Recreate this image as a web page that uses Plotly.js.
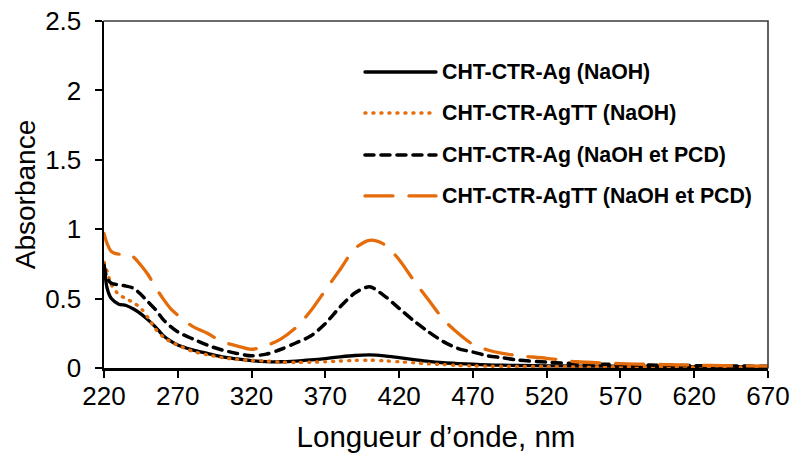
<!DOCTYPE html>
<html>
<head>
<meta charset="utf-8">
<script src="https://cdn.plot.ly/plotly-3.0.1.min.js"></script>
<style>
  body { margin: 0; padding: 0; background: #fff; }
  #chart { width: 795px; height: 455px; }
  .js-line, .shapelayer path { stroke-linecap: round; }
</style>
</head>
<body>
<div id="chart"></div>
<script>
// Wavelengths (nm)
const wavelength = [220, 222, 225, 230, 235, 240, 245, 250, 255, 260, 265, 270, 280, 290, 300, 310, 320, 330, 340, 350, 360, 370, 380, 390, 400, 410, 420, 430, 440, 450, 460, 470, 480, 490, 500, 520, 540, 560, 580, 600, 620, 640, 670];

// CHT-CTR-Ag (NaOH)
const agNaOH = [0.76, 0.58, 0.50, 0.46, 0.45, 0.425, 0.39, 0.345, 0.295, 0.235, 0.195, 0.165, 0.13, 0.105, 0.08, 0.065, 0.053, 0.046, 0.045, 0.05, 0.058, 0.068, 0.08, 0.09, 0.094, 0.088, 0.074, 0.06, 0.047, 0.038, 0.032, 0.027, 0.023, 0.02, 0.018, 0.016, 0.014, 0.013, 0.012, 0.011, 0.01, 0.01, 0.009];

// CHT-CTR-AgTT (NaOH)
const agTTNaOH = [0.76, 0.70, 0.60, 0.53, 0.50, 0.47, 0.43, 0.36, 0.28, 0.225, 0.19, 0.165, 0.12, 0.095, 0.075, 0.062, 0.055, 0.05, 0.042, 0.04, 0.042, 0.045, 0.05, 0.055, 0.056, 0.052, 0.045, 0.038, 0.03, 0.025, 0.018, 0.015, 0.013, 0.012, 0.012, 0.011, 0.01, 0.01, 0.009, 0.009, 0.008, 0.008, 0.008];

// CHT-CTR-Ag (NaOH et PCD)
const agNaOHPCD = [0.74, 0.65, 0.61, 0.60, 0.59, 0.575, 0.53, 0.475, 0.42, 0.35, 0.30, 0.26, 0.21, 0.165, 0.13, 0.105, 0.088, 0.10, 0.135, 0.18, 0.23, 0.32, 0.44, 0.54, 0.585, 0.52, 0.43, 0.34, 0.26, 0.19, 0.14, 0.115, 0.088, 0.074, 0.058, 0.042, 0.032, 0.027, 0.022, 0.02, 0.017, 0.015, 0.012];

// CHT-CTR-AgTT (NaOH et PCD)
const agTTNaOHPCD = [0.97, 0.90, 0.84, 0.82, 0.83, 0.80, 0.74, 0.67, 0.58, 0.50, 0.43, 0.38, 0.30, 0.25, 0.19, 0.16, 0.135, 0.16, 0.21, 0.29, 0.41, 0.56, 0.71, 0.86, 0.92, 0.89, 0.78, 0.63, 0.49, 0.35, 0.25, 0.17, 0.13, 0.105, 0.09, 0.07, 0.045, 0.035, 0.028, 0.025, 0.02, 0.017, 0.013];

const seriesNames = ["CHT-CTR-Ag (NaOH)", "CHT-CTR-AgTT (NaOH)", "CHT-CTR-Ag (NaOH et PCD)", "CHT-CTR-AgTT (NaOH et PCD)"];
const seriesValues = [agNaOH, agTTNaOH, agNaOHPCD, agTTNaOHPCD];

const xTicks = [220, 270, 320, 370, 420, 470, 520, 570, 620, 670];
const yTicks = [0, 0.5, 1, 1.5, 2, 2.5];

const ORANGE = "#E46C0A";
const styles = [
  { color: "#000000", width: 3.3, dash: "solid" },
  { color: ORANGE, width: 3.4, dash: "1px,7px" },
  { color: "#000000", width: 3.5, dash: "9px,7px" },
  { color: ORANGE, width: 3.3, dash: "28px,16px" }
];

const traces = seriesValues.map((vals, i) => ({
  type: "scatter",
  mode: "lines",
  x: wavelength,
  y: vals,
  name: seriesNames[i],
  line: { color: styles[i].color, width: styles[i].width, dash: styles[i].dash, shape: "spline", smoothing: 0.8 },
  showlegend: false,
  hoverinfo: "skip"
}));

// Custom legend (long line samples as in the reference)
const legX0 = 0.393, legX1 = 0.5, legTextX = 0.506;
const legY = [0.853, 0.735, 0.614, 0.496];
const shapes = [
  // top and right border of plot area
  { type: "path", xref: "paper", yref: "paper", path: "M 0 1 L 1 1 L 1 0", line: { color: "#3a3a3a", width: 1.6 } }
];
const annotations = [];
seriesNames.forEach((name, i) => {
  shapes.push({
    type: "line", xref: "paper", yref: "paper",
    x0: legX0, x1: legX1, y0: legY[i], y1: legY[i],
    line: { color: styles[i].color, width: styles[i].width, dash: styles[i].dash }
  });
  annotations.push({
    xref: "paper", yref: "paper", x: legTextX, y: legY[i],
    xanchor: "left", yanchor: "middle", showarrow: false,
    text: "<b>" + name + "</b>",
    font: { family: "Liberation Sans, Arial, sans-serif", size: 21.3, color: "#000" }
  });
});

const layout = {
  width: 795,
  height: 455,
  margin: { l: 104, r: 27, t: 21, b: 87 },
  paper_bgcolor: "#ffffff",
  plot_bgcolor: "#ffffff",
  font: { family: "Liberation Sans, Arial, sans-serif", size: 26, color: "#000" },
  xaxis: {
    range: [220, 670],
    tickvals: xTicks,
    ticktext: xTicks.map(String),
    ticks: "outside",
    ticklen: 7,
    tickwidth: 2,
    tickcolor: "#000",
    ticklabelstandoff: -4,
    showline: true,
    linecolor: "#000",
    linewidth: 2.5,
    showgrid: false,
    zeroline: false,
    tickfont: { size: 26 },
    title: { text: "Longueur d’onde, nm", font: { size: 29.5 }, standoff: 17 }
  },
  yaxis: {
    range: [0, 2.5],
    tickvals: yTicks,
    ticktext: yTicks.map(String),
    ticks: "outside",
    ticklen: 7,
    tickwidth: 2,
    tickcolor: "#000",
    ticklabelstandoff: 8,
    showline: true,
    linecolor: "#000",
    linewidth: 2.5,
    showgrid: false,
    zeroline: false,
    tickfont: { size: 26 },
    title: { text: "Absorbance", font: { size: 28 }, standoff: 2 }
  },
  shapes: shapes,
  annotations: annotations,
  showlegend: false
};

Plotly.newPlot("chart", traces, layout, { staticPlot: true, displayModeBar: false });
</script>
</body>
</html>
